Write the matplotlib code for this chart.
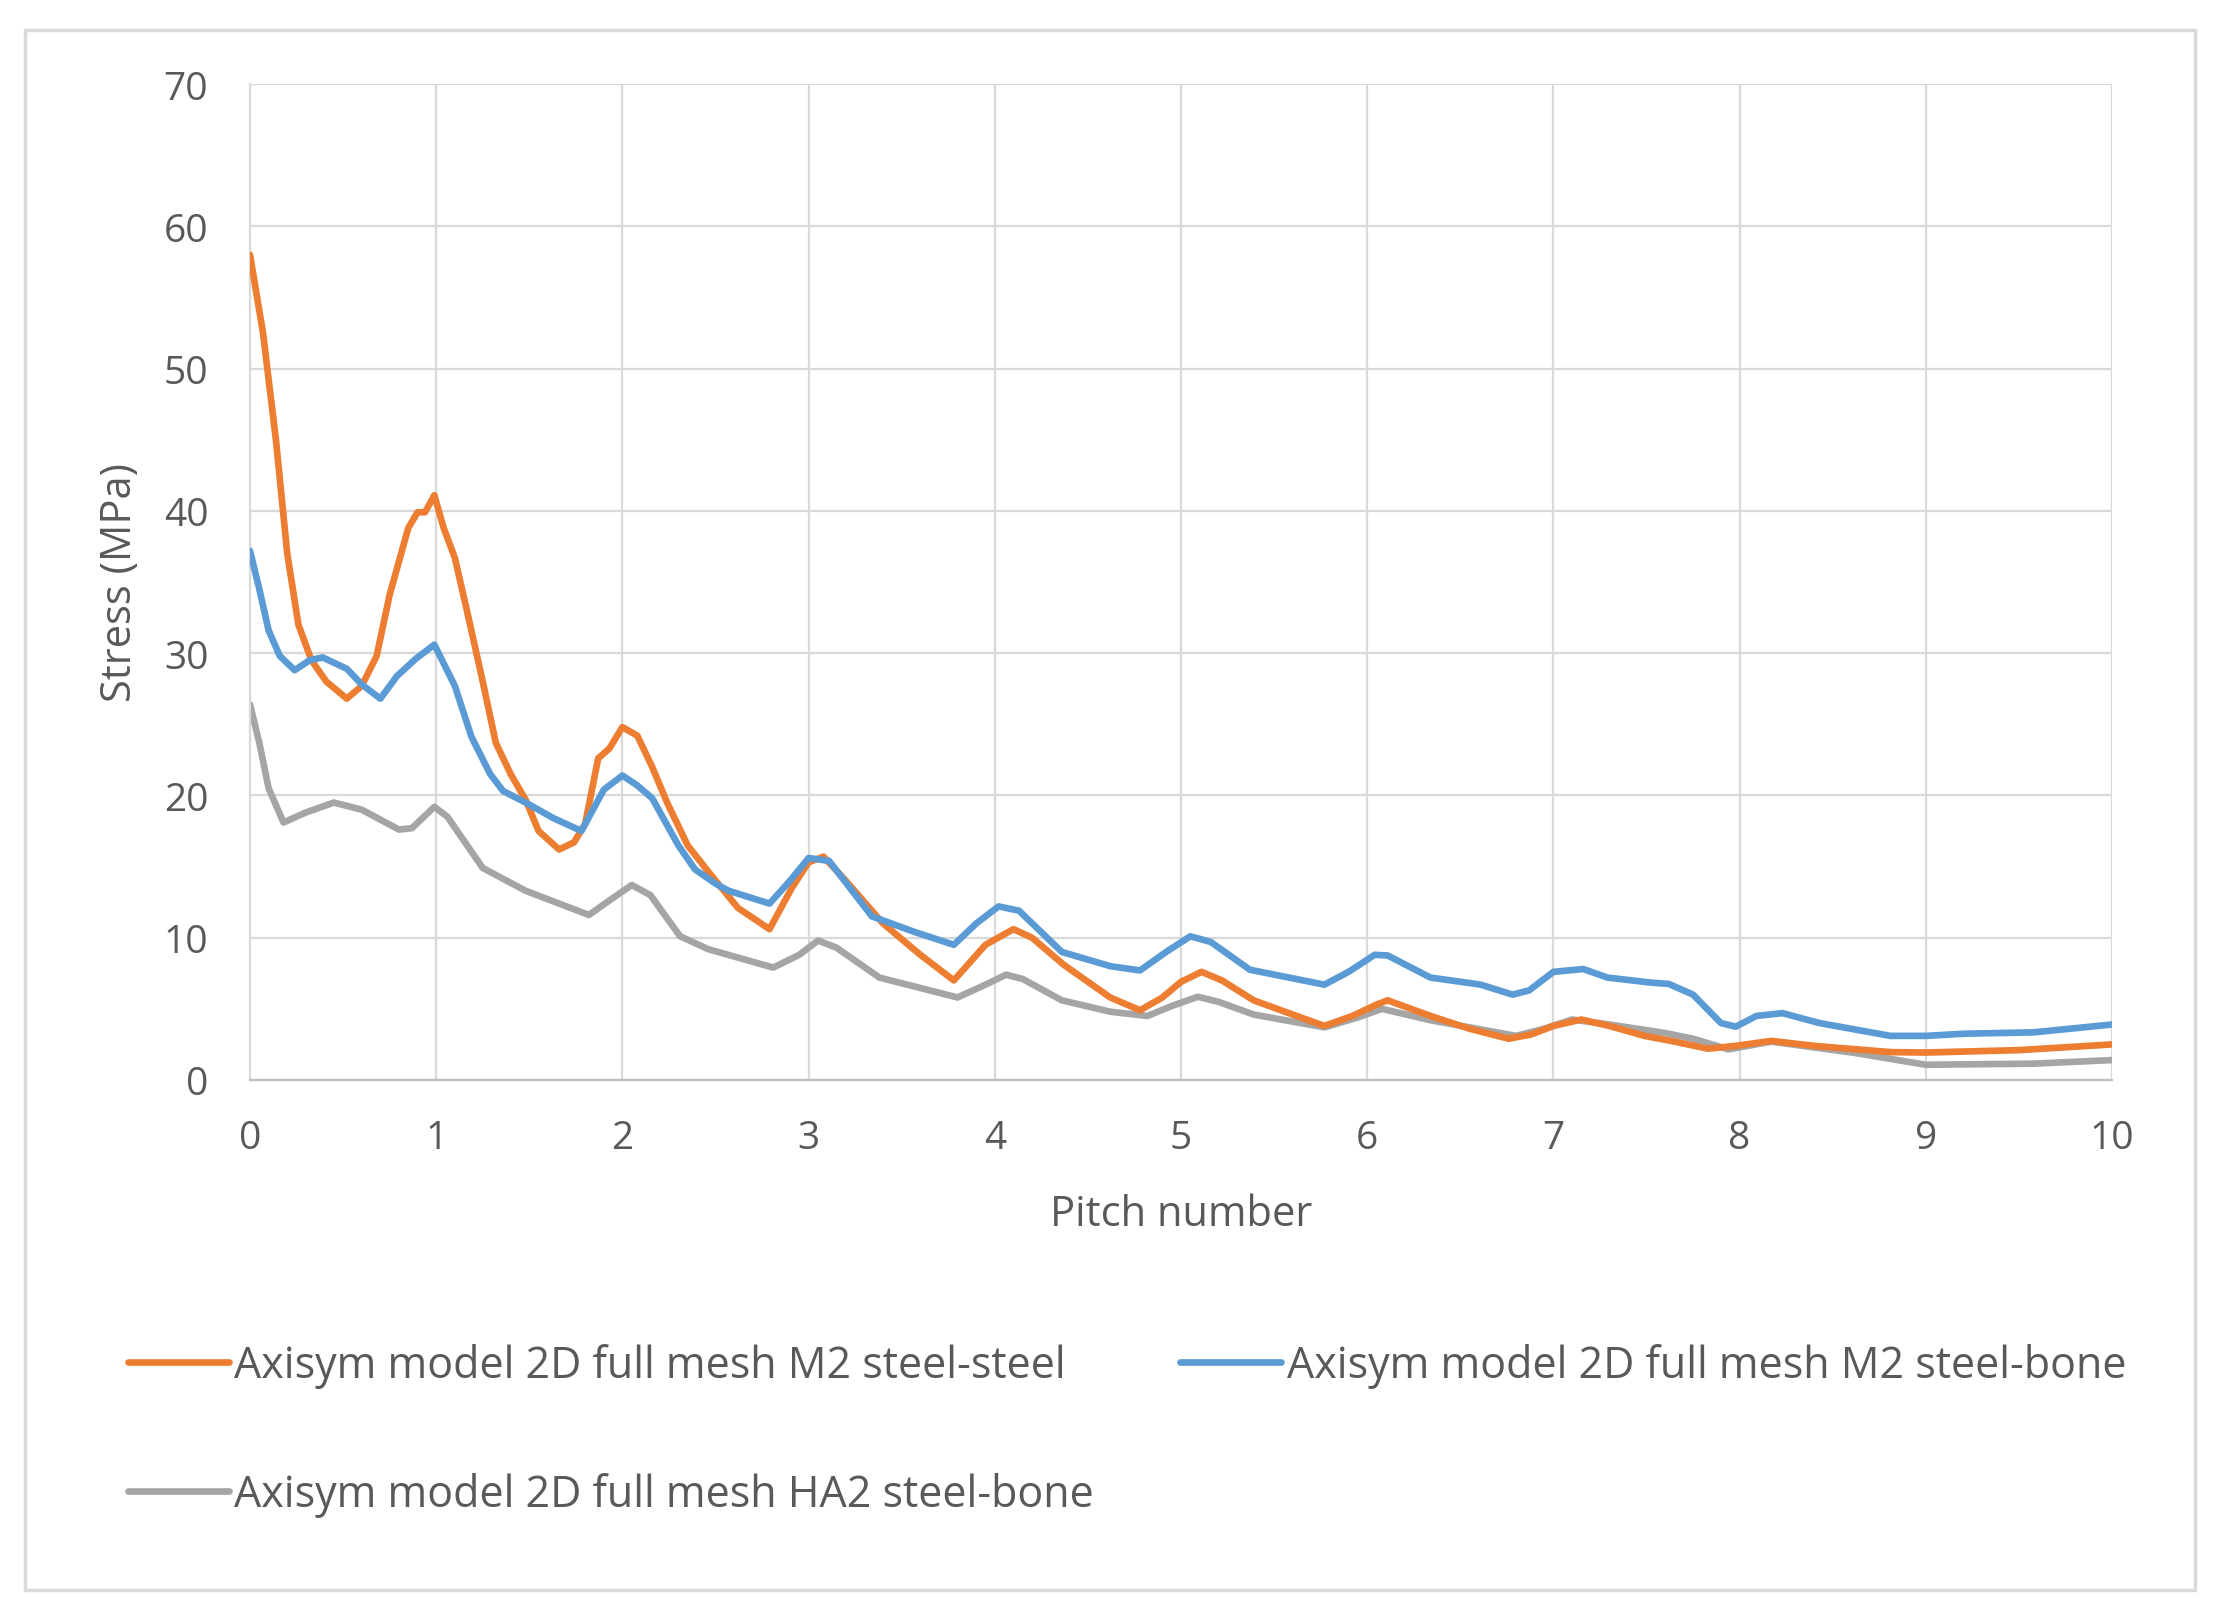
import matplotlib
matplotlib.use("Agg")
import matplotlib.pyplot as plt
from matplotlib.patches import Rectangle

plt.rcParams['font.family'] = ['Open Sans', 'DejaVu Sans']

# series (pitch number, stress in MPa)
x_ss = [0, 0.07, 0.14, 0.2, 0.26, 0.33, 0.41, 0.52, 0.6, 0.68, 0.75, 0.85, 0.9, 0.94, 0.99,
        1.04, 1.1, 1.17, 1.25, 1.32, 1.4, 1.48, 1.55, 1.66, 1.74, 1.8, 1.87, 1.93, 2.0, 2.08,
        2.16, 2.24, 2.35, 2.47, 2.62, 2.79, 2.91, 3.0, 3.08, 3.2, 3.4, 3.6, 3.78, 3.95, 4.1,
        4.2, 4.37, 4.62, 4.78, 4.9, 5.0, 5.11, 5.22, 5.39, 5.6, 5.77, 5.92, 6.05, 6.11, 6.34,
        6.55, 6.76, 6.88, 7.0, 7.15, 7.3, 7.49, 7.65, 7.83, 7.98, 8.17, 8.4, 8.81, 9.0, 9.5, 10]
y_ss = [58.0, 52.5, 44.9, 37.0, 32.0, 29.5, 28.0, 26.8, 27.7, 29.8, 34.1, 38.8, 39.9, 39.9, 41.1,
        38.8, 36.7, 32.7, 28.0, 23.7, 21.5, 19.7, 17.5, 16.2, 16.7, 18.0, 22.6, 23.3, 24.8, 24.2,
        22.0, 19.5, 16.5, 14.5, 12.1, 10.6, 13.5, 15.3, 15.7, 14.0, 11.0, 8.8, 7.0, 9.5, 10.6,
        10.0, 8.1, 5.8, 4.9, 5.8, 6.9, 7.6, 7.0, 5.6, 4.6, 3.8, 4.5, 5.3, 5.6, 4.5,
        3.6, 2.9, 3.2, 3.8, 4.25, 3.8, 3.1, 2.7, 2.2, 2.4, 2.75, 2.4, 1.96, 1.93, 2.1, 2.5]

x_sb = [0, 0.05, 0.1, 0.16, 0.24, 0.32, 0.39, 0.52, 0.6, 0.7, 0.79, 0.89, 0.99, 1.1, 1.19,
        1.29, 1.36, 1.48, 1.63, 1.78, 1.9, 2.0, 2.08, 2.16, 2.3, 2.39, 2.5, 2.57, 2.79, 2.9,
        3.0, 3.11, 3.34, 3.57, 3.78, 3.9, 4.02, 4.13, 4.36, 4.62, 4.78, 4.92, 5.05, 5.16, 5.37,
        5.77, 5.9, 6.04, 6.11, 6.34, 6.61, 6.78, 6.87, 7.0, 7.16, 7.29, 7.52, 7.62, 7.75, 7.9,
        7.98, 8.09, 8.23, 8.43, 8.81, 9.0, 9.2, 9.58, 10]
y_sb = [37.2, 34.5, 31.6, 29.8, 28.8, 29.5, 29.7, 28.9, 27.8, 26.8, 28.4, 29.6, 30.6, 27.7, 24.1,
        21.5, 20.3, 19.5, 18.4, 17.5, 20.4, 21.4, 20.7, 19.8, 16.5, 14.8, 13.8, 13.3, 12.4, 14.0,
        15.6, 15.4, 11.5, 10.4, 9.5, 11.0, 12.2, 11.9, 9.0, 8.0, 7.7, 9.0, 10.1, 9.7, 7.75,
        6.7, 7.6, 8.8, 8.75, 7.2, 6.7, 6.0, 6.3, 7.6, 7.8, 7.2, 6.85, 6.75, 6.0, 4.0,
        3.75, 4.5, 4.7, 4.0, 3.1, 3.1, 3.25, 3.35, 3.9]

x_ha = [0, 0.05, 0.1, 0.18, 0.3, 0.45, 0.6, 0.8, 0.87, 0.99, 1.06, 1.25, 1.48, 1.82, 1.95,
        2.05, 2.15, 2.31, 2.46, 2.81, 2.95, 3.05, 3.15, 3.38, 3.8, 3.95, 4.06, 4.15, 4.36, 4.62,
        4.82, 4.95, 5.09, 5.2, 5.39, 5.77, 5.95, 6.08, 6.34, 6.8, 6.95, 7.1, 7.3, 7.6, 7.75,
        7.94, 8.17, 8.62, 9.0, 9.58, 10]
y_ha = [26.4, 23.7, 20.5, 18.1, 18.8, 19.5, 19.0, 17.6, 17.7, 19.2, 18.5, 14.9, 13.3, 11.6, 12.8,
        13.7, 13.0, 10.1, 9.2, 7.9, 8.8, 9.8, 9.3, 7.2, 5.8, 6.7, 7.4, 7.1, 5.6, 4.8,
        4.5, 5.2, 5.85, 5.5, 4.6, 3.7, 4.4, 5.0, 4.2, 3.1, 3.6, 4.25, 3.9, 3.3, 2.9,
        2.15, 2.7, 1.9, 1.07, 1.15, 1.4]

labels = ['Axisym model 2D full mesh M2 steel-steel',
          'Axisym model 2D full mesh M2 steel-bone',
          'Axisym model 2D full mesh HA2 steel-bone']
colors = ['#ED7D31', '#5B9BD5', '#A5A5A5']

W, H = 2225, 1608
fig = plt.figure(figsize=(W / 100, H / 100), dpi=100)
ax = fig.add_axes([250 / W, 1 - 1081 / H, (2112 - 250) / W, (1081 - 85) / H])

lw = 4.8
l1, = ax.plot(x_ss, y_ss, color=colors[0], lw=lw, solid_joinstyle='round', solid_capstyle='round', label=labels[0], zorder=3)
l2, = ax.plot(x_sb, y_sb, color=colors[1], lw=lw, solid_joinstyle='round', solid_capstyle='round', label=labels[1], zorder=3)
l3, = ax.plot(x_ha, y_ha, color=colors[2], lw=lw, solid_joinstyle='round', solid_capstyle='round', label=labels[2], zorder=2)

ax.set_xlim(0, 10)
ax.set_ylim(0, 70)
ax.set_xticks(range(0, 11))
ax.set_yticks(range(0, 71, 10))
ax.grid(True, color='#D9D9D9', lw=1.6)
ax.set_axisbelow(True)
for s in ax.spines.values():
    s.set_visible(False)
ax.spines['bottom'].set_visible(True)
ax.spines['bottom'].set_color('#BFBFBF')
ax.spines['bottom'].set_linewidth(1.6)
ax.spines['left'].set_visible(True)
ax.spines['left'].set_color('#D9D9D9')
ax.spines['left'].set_linewidth(1.6)
ax.tick_params(length=0, labelsize=28, labelcolor='#595959')
ax.tick_params(axis='x', pad=28)
ax.tick_params(axis='y', pad=30)

ax.set_xlabel('Pitch number', fontsize=30, color='#595959', labelpad=26)
ax.set_ylabel('Stress (MPa)', fontsize=30, color='#595959', labelpad=16)

fig.legend([l1, l3, l2], [labels[0], labels[2], labels[1]], ncol=2,
           loc='upper left', bbox_to_anchor=(128 / W, 1 - 1344 / H),
           frameon=False, fontsize=31, labelcolor='#595959',
           handlelength=2.35, handletextpad=0.12, columnspacing=2.0,
           labelspacing=1.95, borderaxespad=0, borderpad=0)

fig.patches.append(Rectangle((25 / W, 1 - 1591 / H), (2195 - 25) / W, (1591 - 31) / H,
                             transform=fig.transFigure, fill=False,
                             edgecolor='#D9D9D9', lw=2.5))

fig.savefig('out.png', dpi=100, facecolor='white')
